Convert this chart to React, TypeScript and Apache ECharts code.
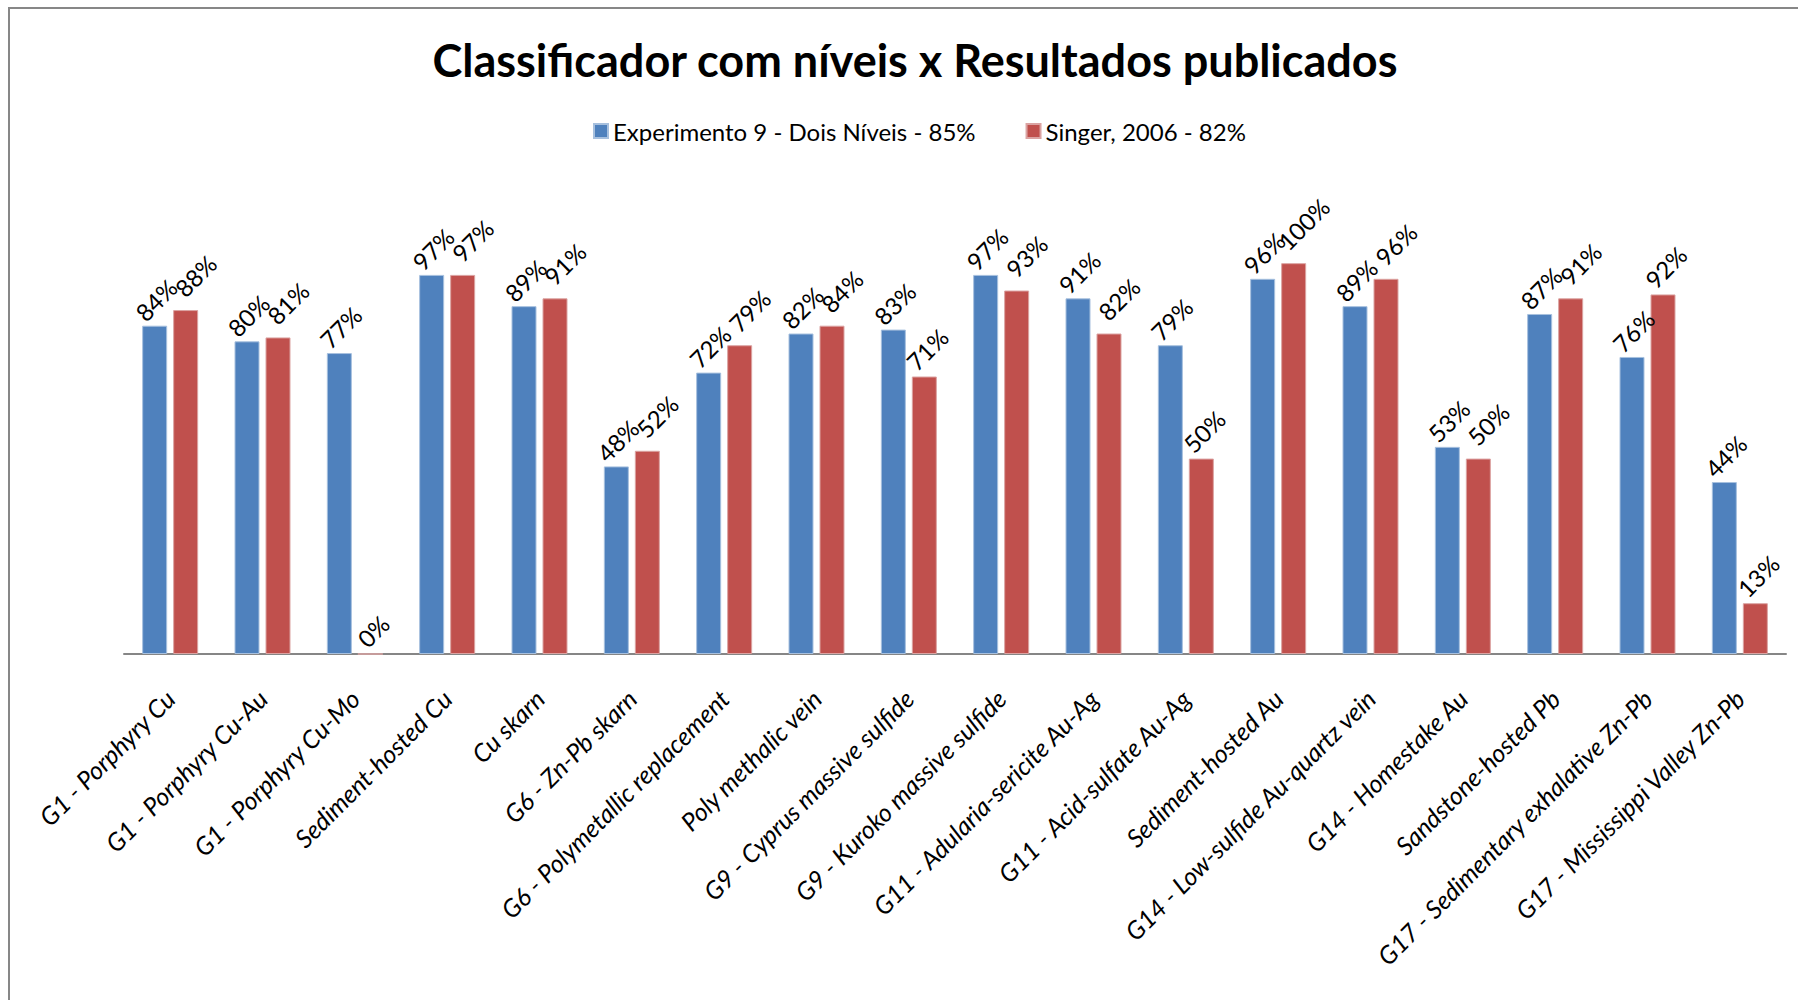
import React, { useEffect, useRef } from "react";
import * as echarts from "echarts";

const categories = [
  "G1 - Porphyry Cu",
  "G1 - Porphyry Cu-Au",
  "G1 - Porphyry Cu-Mo",
  "Sediment-hosted Cu",
  "Cu skarn",
  "G6 - Zn-Pb skarn",
  "G6 - Polymetallic replacement",
  "Poly methalic vein",
  "G9 - Cyprus massive sulfide",
  "G9 - Kuroko massive sulfide",
  "G11 - Adularia-sericite Au-Ag",
  "G11 - Acid-sulfate Au-Ag",
  "Sediment-hosted Au",
  "G14 - Low-sulfide Au-quartz vein",
  "G14 - Homestake Au",
  "Sandstone-hosted Pb",
  "G17 - Sedimentary exhalative Zn-Pb",
  "G17 - Mississippi Valley Zn-Pb",
];

const experimento = [84, 80, 77, 97, 89, 48, 72, 82, 83, 97, 91, 79, 96, 89, 53, 87, 76, 44];
const singer = [88, 81, 0, 97, 91, 52, 79, 84, 71, 93, 82, 50, 100, 96, 50, 91, 92, 13];

const seriesNames = ["Experimento 9 - Dois Níveis - 85%", "Singer, 2006 - 82%"];
const colors = ["#4F81BD", "#C0504D"];
const titleText = "Classificador com níveis x Resultados publicados";

const FONT = "Lato, 'Open Sans', sans-serif";

function labelDistance(v: number): number {
  const len = `${v}%`.length;
  return 3 + 0.354 * (len * 13.5 + 20);
}

// Labels of the second series are nudged right when they would collide with the first series' label
function buildData(values: number[], other: number[] | null) {
  return values.map((v, i) => {
    const collide = other !== null && Math.abs(v - other[i]) <= 10;
    return {
      value: v,
      label: { distance: labelDistance(v), offset: [other === null ? 2 : collide ? 14 : 4, 0] },
    };
  });
}

export default function App() {
  const ref = useRef<HTMLDivElement>(null);
  useEffect(() => {
    if (!ref.current) return;
    const chart = echarts.init(ref.current, null, { renderer: "svg" });
    const labelCommon = {
      show: true,
      position: "top",
      rotate: 45,
      align: "center",
      verticalAlign: "middle",
      color: "#000",
      fontFamily: FONT,
      fontSize: 24,
      formatter: (p: any) => `${p.value}%`,
    };
    chart.setOption({
      animation: false,
      backgroundColor: "#fff",
      title: {
        text: titleText,
        left: 910,
        top: 32,
        textAlign: "center",
        textStyle: { fontFamily: FONT, fontSize: 45, fontWeight: "bold", color: "#000" },
      },
      legend: {
        left: 588,
        top: 114,
        itemWidth: 14,
        itemHeight: 14,
        itemGap: 50,
        icon: "rect",
        textStyle: { fontFamily: FONT, fontSize: 24, color: "#000" },
        data: seriesNames,
      },
      graphic: [
        {
          type: "rect",
          shape: { x: 9, y: 8, width: 1800, height: 1000 },
          style: { fill: "none", stroke: "#878787", lineWidth: 2 },
          silent: true,
        },
      ],
      grid: { left: 124, right: 12, top: 185, bottom: 346 },
      xAxis: {
        type: "category",
        data: categories,
        axisLine: { lineStyle: { color: "#868686", width: 2 } },
        axisTick: { show: false },
        axisLabel: {
          interval: 0,
          rotate: 45,
          margin: 40,
          fontStyle: "italic",
          fontFamily: FONT,
          fontSize: 25,
          color: "#000",
        },
      },
      yAxis: { type: "value", min: 0, max: 120, show: false, splitLine: { show: false } },
      series: [
        {
          name: seriesNames[0],
          type: "bar",
          data: buildData(experimento, null),
          barWidth: 25,
          barGap: "24%",
          itemStyle: { color: colors[0], borderColor: "#a7c0de", borderWidth: 1 },
          label: labelCommon,
        },
        {
          name: seriesNames[1],
          type: "bar",
          data: buildData(singer, experimento),
          barWidth: 25,
          barGap: "24%",
          itemStyle: { color: colors[1], borderColor: "#dba3a2", borderWidth: 1 },
          label: labelCommon,
        },
      ],
    });
    return () => chart.dispose();
  }, []);
  return (
    <div
      ref={ref}
      style={{ position: "absolute", left: 0, top: 0, width: 1798, height: 1000, background: "#fff" }}
    />
  );
}
